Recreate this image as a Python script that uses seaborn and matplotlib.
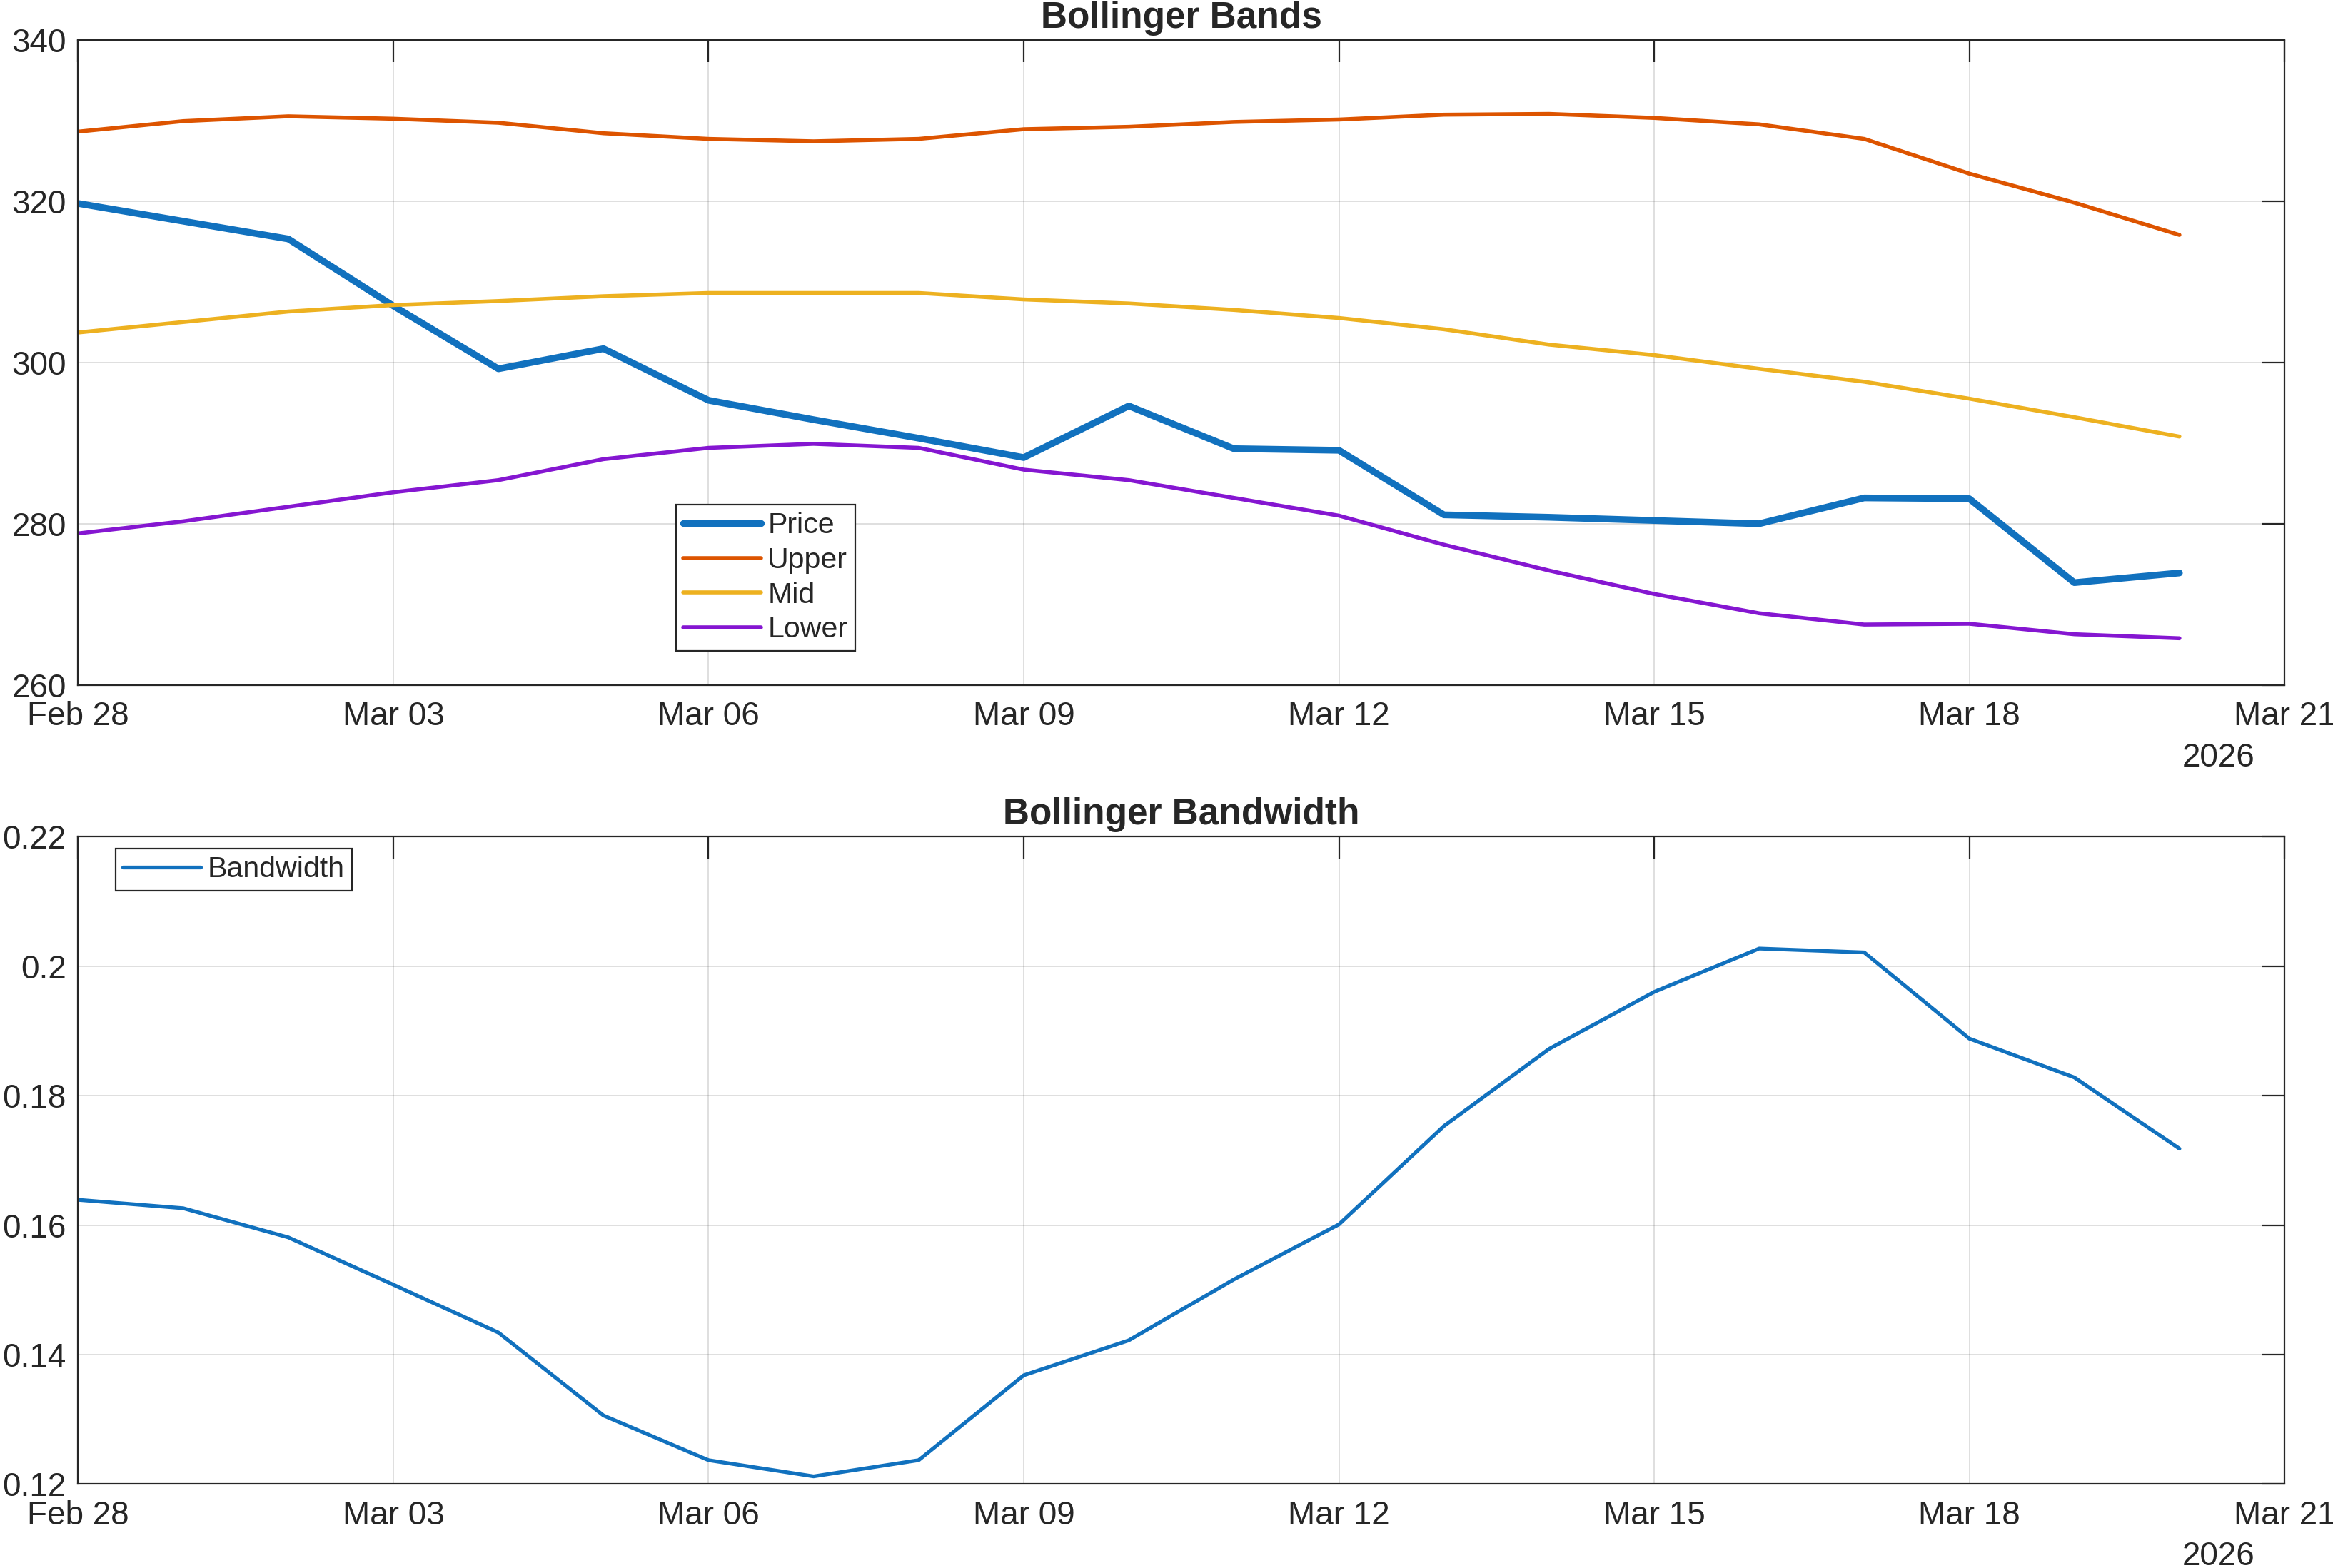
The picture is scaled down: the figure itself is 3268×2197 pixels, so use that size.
import matplotlib
matplotlib.use("Agg")
import matplotlib.pyplot as plt
import matplotlib.dates as mdates
import seaborn as sns
import pandas as pd
import numpy as np

# ---- data ----
dates = pd.date_range("2026-02-28", "2026-03-20", freq="D")
price = [319.7, 317.5, 315.3, 307.0, 299.2, 301.7, 295.3, 292.9, 290.6, 288.2, 294.6,
         289.3, 289.1, 281.1, 280.8, 280.4, 280.0, 283.2, 283.1, 272.7, 273.9]
upper = [328.6, 329.9, 330.5, 330.2, 329.7, 328.4, 327.7, 327.4, 327.7, 328.9, 329.2,
         329.8, 330.1, 330.7, 330.8, 330.3, 329.5, 327.7, 323.4, 319.8, 315.8]
mid = [303.7, 305.0, 306.3, 307.1, 307.6, 308.2, 308.6, 308.6, 308.6, 307.8, 307.3,
       306.5, 305.5, 304.1, 302.2, 300.9, 299.2, 297.6, 295.5, 293.2, 290.8]
lower = [278.8, 280.3, 282.1, 283.9, 285.4, 288.0, 289.4, 289.9, 289.4, 286.7, 285.4,
         283.2, 281.0, 277.4, 274.2, 271.3, 268.9, 267.5, 267.6, 266.3, 265.8]
bandwidth = [0.1639, 0.1626, 0.1581, 0.1508, 0.1434, 0.1306, 0.1237, 0.1212, 0.1237,
             0.1368, 0.1422, 0.1516, 0.1601, 0.1753, 0.1872, 0.1960, 0.2027, 0.2021,
             0.1888, 0.1828, 0.1718]

top_yticks = [260, 280, 300, 320, 340]
bot_yticks = [0.12, 0.14, 0.16, 0.18, 0.20, 0.22]
bot_ylabels = ["0.12", "0.14", "0.16", "0.18", "0.2", "0.22"]
xlim = (pd.Timestamp("2026-02-28"), pd.Timestamp("2026-03-21"))
xticks = pd.date_range("2026-02-28", "2026-03-21", freq="3D")
year_label = "2026"

df = pd.DataFrame({"date": dates, "Price": price, "Upper": upper, "Mid": mid,
                   "Lower": lower, "Bandwidth": bandwidth})

# ---- style ----
sns.set_style("white")
plt.rcParams["font.family"] = ["Liberation Sans", "DejaVu Sans"]
TXT = "#262626"
plt.rcParams["text.color"] = TXT
plt.rcParams["axes.labelcolor"] = TXT
plt.rcParams["xtick.color"] = TXT
plt.rcParams["ytick.color"] = TXT

colors = {"Price": "#1171BE", "Upper": "#DD5400", "Mid": "#EDB120", "Lower": "#8516D1"}
FS = 16.5
LFS = 14.8

fig = plt.figure(figsize=(16.34, 10.985), dpi=200)
ax1 = fig.add_axes([0.0335, 0.5631, 0.9457, 0.4116])
ax2 = fig.add_axes([0.0335, 0.0535, 0.9457, 0.4130])

sns.lineplot(data=df, x="date", y="Price", ax=ax1, color=colors["Price"], linewidth=3.4, label="Price")
sns.lineplot(data=df, x="date", y="Upper", ax=ax1, color=colors["Upper"], linewidth=2.0, label="Upper")
sns.lineplot(data=df, x="date", y="Mid", ax=ax1, color=colors["Mid"], linewidth=2.0, label="Mid")
sns.lineplot(data=df, x="date", y="Lower", ax=ax1, color=colors["Lower"], linewidth=2.0, label="Lower")
sns.lineplot(data=df, x="date", y="Bandwidth", ax=ax2, color=colors["Price"], linewidth=1.9, label="Bandwidth")

for ax, yt, yl, ttl in [(ax1, top_yticks, [str(v) for v in top_yticks], "Bollinger Bands"),
                        (ax2, bot_yticks, bot_ylabels, "Bollinger Bandwidth")]:
    ax.set_xlim(*xlim)
    ax.set_ylim(yt[0], yt[-1])
    ax.set_yticks(yt)
    ax.set_yticklabels(yl)
    ax.set_xticks(xticks)
    ax.xaxis.set_major_formatter(mdates.DateFormatter("%b %d"))
    ax.set_xlabel("")
    ax.set_ylabel("")
    ax.tick_params(axis="both", direction="in", length=11, width=0.8, labelsize=FS,
                   top=True, right=True, colors=TXT)
    ax.tick_params(axis="x", pad=8)
    ax.tick_params(axis="y", pad=6)
    ax.grid(True, color="#262626", alpha=0.15, linewidth=0.7)
    for s in ax.spines.values():
        s.set_color(TXT)
        s.set_linewidth(0.8)
    ax.set_title(ttl, fontsize=18.5, fontweight="bold", color=TXT, pad=6)

leg_kw = dict(fontsize=LFS, frameon=True, fancybox=False, framealpha=1, edgecolor=TXT,
              handlelength=2.65, handletextpad=0.22, labelspacing=0.26, borderpad=0.25,
              borderaxespad=0, bbox_transform=fig.transFigure, loc="upper left")
leg1 = ax1.legend(bbox_to_anchor=(0.2898, 0.6782), **leg_kw)
leg1.get_frame().set_linewidth(0.8)
leg2 = ax2.legend(bbox_to_anchor=(0.0496, 0.4588), **leg_kw)
leg2.get_frame().set_linewidth(0.8)

fig.text(0.9509, 0.5168, year_label, fontsize=FS, color=TXT, ha="center", va="center")
fig.text(0.9509, 0.0075, year_label, fontsize=FS, color=TXT, ha="center", va="center")

fig.savefig("out.png", dpi=200, facecolor="white")
